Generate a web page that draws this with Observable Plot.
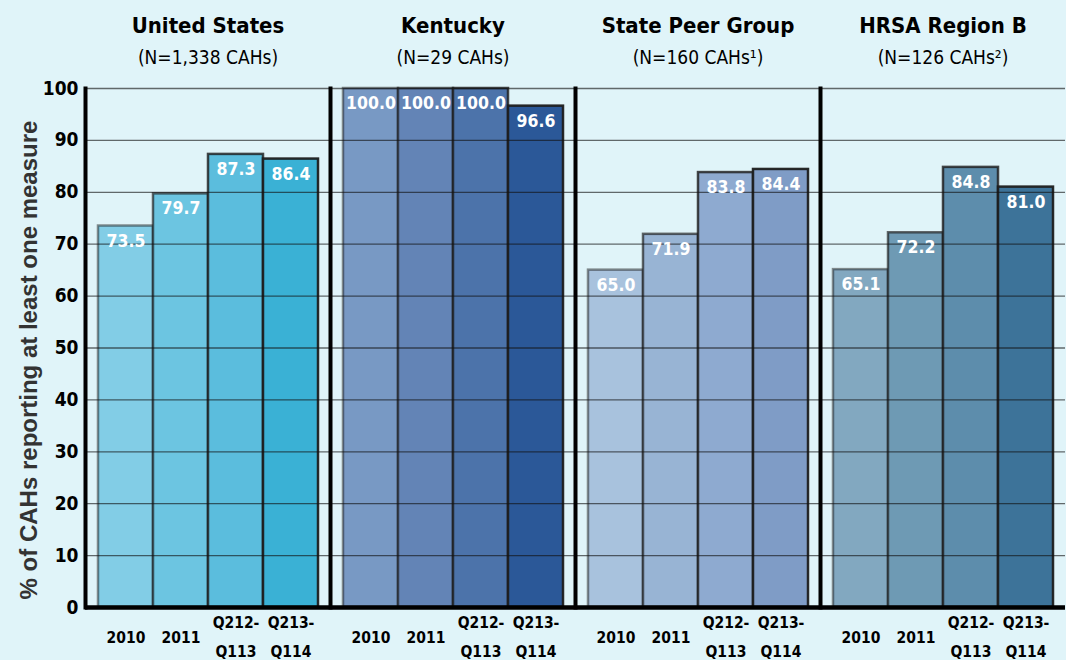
<!DOCTYPE html>
<html>
<head>
<meta charset="utf-8">
<script src="https://cdn.jsdelivr.net/npm/d3@7"></script>
<script src="https://cdn.jsdelivr.net/npm/@observablehq/plot@0.6"></script>
<style>
  html, body { margin: 0; padding: 0; background: #e0f4f9; overflow: hidden; }
  #chart svg { display: block; }
  g[aria-label="y-axis tick label"] text { font-family: "DejaVu Sans Condensed", sans-serif; font-weight: bold; font-size: 19px; fill: #000; }
</style>
</head>
<body>
<div id="chart"></div>
<script>
// ---- data ----
const groups = ["United States", "Kentucky", "State Peer Group", "HRSA Region B"];
const subtitles = ["(N=1,338 CAHs)", "(N=29 CAHs)", "(N=160 CAHs\u00B9)", "(N=126 CAHs\u00B2)"];
const periods = ["2010", "2011", "Q212-Q113", "Q213-Q114"];
const periodLabels = ["2010", "2011", "Q212-\nQ113", "Q213-\nQ114"];
const unitedStates = [73.5, 79.7, 87.3, 86.4];
const kentucky = [100.0, 100.0, 100.0, 96.6];
const statePeerGroup = [65.0, 71.9, 83.8, 84.4];
const hrsaRegionB = [65.1, 72.2, 84.8, 81.0];
const yTicks = [0, 10, 20, 30, 40, 50, 60, 70, 80, 90, 100];
const yLabel = "% of CAHs reporting at least one measure";

// ---- styles ----
const palettes = [
  ["#82cde6", "#6cc5e1", "#5bbddd", "#3ab1d5"],
  ["#7899c4", "#6384b6", "#4c73aa", "#2b5898"],
  ["#a8c2dd", "#98b4d4", "#8eaad0", "#7f9cc6"],
  ["#82a8c0", "#6e9ab4", "#5d8dac", "#3d7399"]
];
const strokeOpacities = [0.5, 0.68, 0.82, 0.95];
const condensed = "'DejaVu Sans Condensed', sans-serif";

const seriesValues = [unitedStates, kentucky, statePeerGroup, hrsaRegionB];
const rows = groups.flatMap((g, i) => periods.map((p, j) => ({
  group: g, period: p, value: seriesValues[i][j],
  fill: palettes[i][j], so: strokeOpacities[j]
})));
const titles = groups.map((g, i) => ({group: g, title: g, sub: subtitles[i]}));
const xlabels = groups.flatMap(g => periods.map((p, j) => ({group: g, period: p, label: periodLabels[j]})));

const chart = Plot.plot({
  width: 1066,
  height: 660,
  marginLeft: 84,
  marginRight: 0,
  marginTop: 88,
  marginBottom: 53,
  style: {background: "#e0f4f9", overflow: "visible"},
  fx: {domain: groups, padding: 0, axis: null},
  x: {domain: periods, paddingInner: 0, paddingOuter: 0.22, axis: null},
  y: {domain: [0, 100], axis: null},
  color: {type: "identity"},
  opacity: {type: "identity"},
  marks: [
    Plot.barY(rows, {fx: "group", x: "period", y: "value", fill: "fill",
      stroke: "#1e1e1e", strokeOpacity: "so", strokeWidth: 2.5}),
    Plot.ruleY(yTicks.filter(d => d > 0), {stroke: "#111", strokeOpacity: 0.62, strokeWidth: 1.3}),
    Plot.ruleY([0], {stroke: "#000", strokeWidth: 4.5}),
    Plot.frame({anchor: "left", stroke: "#000", strokeWidth: 4}),
    Plot.text(rows, {fx: "group", x: "period", y: "value", text: d => d.value.toFixed(1),
      dy: 15, fill: "white", fontWeight: "bold", fontSize: 17.5, fontFamily: condensed}),
    Plot.text(xlabels, {fx: "group", x: "period", text: "label", frameAnchor: "bottom",
      dy: 26, lineAnchor: "middle", lineHeight: 1.85, fill: "#000", fontWeight: "bold",
      fontSize: 15.5, fontFamily: condensed}),
    Plot.text(titles, {fx: "group", text: "title", frameAnchor: "top", dy: -63,
      lineAnchor: "middle", fill: "#000", fontWeight: "bold", fontSize: 22, fontFamily: condensed}),
    Plot.text(titles, {fx: "group", text: "sub", frameAnchor: "top", dy: -31,
      lineAnchor: "middle", fill: "#000", fontSize: 19, fontFamily: condensed}),
    Plot.axisY({ticks: yTicks, tickSize: 0, tickPadding: 7, label: null}),
    Plot.text([yLabel], {fx: () => groups[0], text: d => d, frameAnchor: "left", rotate: -90,
      dx: -56, dy: 12, textAnchor: "middle", lineAnchor: "middle", fill: "#333",
      fontWeight: "bold", fontSize: 24, fontFamily: "'Liberation Sans', Arial, sans-serif"})
  ]
});
document.getElementById("chart").appendChild(chart);
</script>
</body>
</html>
